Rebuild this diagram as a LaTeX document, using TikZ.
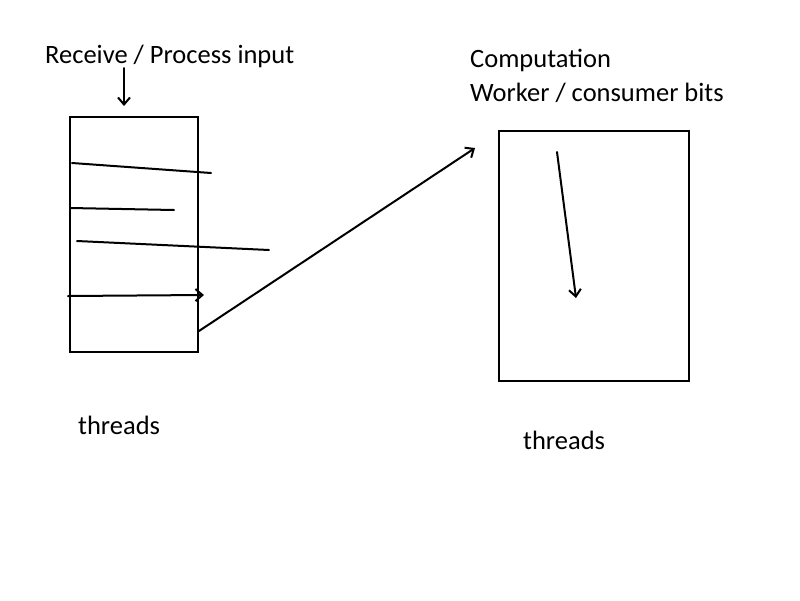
\documentclass[tikz,border=0pt]{standalone}
\usepackage{fontspec}
\setmainfont{Carlito}
\usetikzlibrary{arrows.meta}
\begin{document}
\begin{tikzpicture}[x=1pt,y=-1pt,
  ln/.style={line width=2pt,line cap=round},
  arr/.style={ln,-{Straight Barb[length=7pt,width=12pt,line width=2pt]}},
  box/.style={draw,line width=2.2pt,minimum width=#1,inner sep=0pt},
  lbl/.style={anchor=west,inner sep=0pt,font=\fontsize{26.5}{30}\selectfont}]
\useasboundingbox (0,0) rectangle (800,600);
\node[lbl] (recv) at (45,56) {Receive / Process input};
\node[lbl] (comp) at (470,60) {Computation};
\node[lbl] (work) at (470,93) {Worker / consumer bits};
\node[lbl] (th1) at (78,425) {threads};
\node[lbl] (th2) at (523,440) {threads};
\node[box=128pt,minimum height=235pt] (L) at (134,234.5) {};
\node[box=190pt,minimum height=250pt] (R) at (594,256) {};
\coordinate (a0) at (124,68); \coordinate (a1) at (124,106);
\draw[arr] (a0) -- (a1);
\coordinate (l1a) at (72,163); \coordinate (l1b) at (211,173);
\coordinate (l2a) at (70,208); \coordinate (l2b) at (174,210);
\coordinate (l3a) at (77,241); \coordinate (l3b) at (269,250);
\coordinate (l4a) at (68,296); \coordinate (l4b) at (204,295);
\draw[ln] (l1a) -- (l1b);
\draw[ln] (l2a) -- (l2b);
\draw[ln] (l3a) -- (l3b);
\draw[arr] (l4a) -- (l4b);
\coordinate (b0) at (199,331); \coordinate (b1) at (475,148);
\draw[arr] (b0) -- (b1);
\coordinate (c0) at (557,152); \coordinate (c1) at (576,298);
\draw[arr] (c0) -- (c1);
\end{tikzpicture}
\end{document}
